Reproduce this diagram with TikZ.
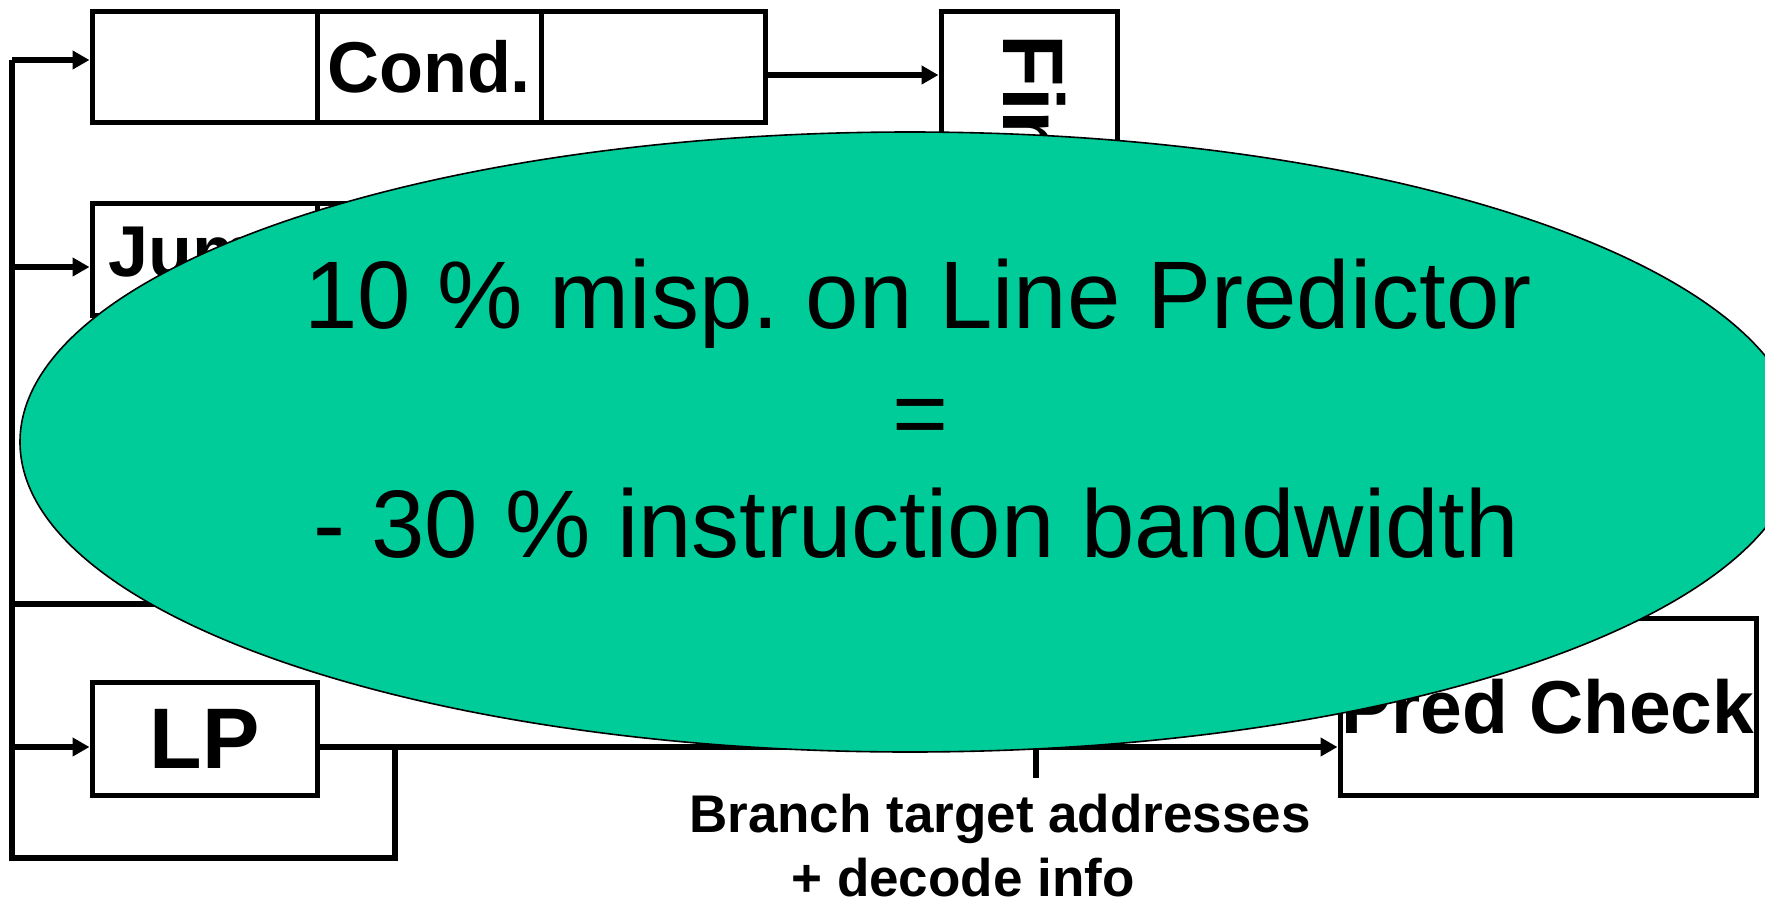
\documentclass[tikz,border=0pt]{standalone}
\usepackage{fontspec}
\setmainfont{Liberation Sans}
\usetikzlibrary{arrows.meta,shapes.geometric}
\definecolor{ovalgreen}{RGB}{0,204,153}
\frenchspacing
\newcommand\fcell{\fontsize{72}{80}\selectfont\bfseries}
\newcommand\fbig{\fontsize{86}{90}\selectfont\bfseries}
\newcommand\fpred{\fontsize{75}{80}\selectfont\bfseries}
\newcommand\flabel{\fontsize{53}{60}\selectfont\bfseries}
\newcommand\foval{\fontsize{96}{110}\selectfont}

\begin{document}
\begin{tikzpicture}[x=1pt,y=-1pt,
  wire/.style={line width=5.5pt, line join=miter},
  arr/.style={wire, -{Triangle[length=17pt,width=18pt]}},
  cell/.style={draw, line width=5pt, inner sep=0pt, fill=white},
  oval/.style={draw, line width=1.6pt, fill=ovalgreen, ellipse, inner sep=0pt},
]
\useasboundingbox (0,0) rectangle (1765,908);

% conditional predictor row
\node[cell, minimum width=225pt, minimum height=111pt] (c1) at (204.5,66.5) {};
\node[cell, minimum width=224pt, minimum height=111pt, font=\fcell] (c2) at (429,66.5) {Cond.};
\node[cell, minimum width=224pt, minimum height=111pt] (c3) at (653,66.5) {};

% jump predictor row
\node[cell, minimum width=225pt, minimum height=112pt, font=\fcell] (j1) at (204.5,259) {Jump};
\node[cell, minimum width=224pt, minimum height=112pt] (j2) at (429,259) {};
\node[cell, minimum width=224pt, minimum height=112pt] (j3) at (653,259) {};

% line predictor
\node[cell, minimum width=225pt, minimum height=113pt, font=\fbig] (lp) at (204.5,738.5) {LP};

% vertical box fed by the conditional predictor
\node[cell, minimum width=176pt, minimum height=390pt] (fin) at (1029,206) {};
\node[rotate=-90, anchor=base west, font=\fbig] (fintext) at (1003,31) {Fin};

% prediction check
\node[cell, minimum width=416pt, minimum height=177pt, font=\fpred] (pred) at (1548,706.5) {Pred Check};

% bus and feedback loop
\coordinate (b1) at (12,60);
\coordinate (b2) at (12,267);
\coordinate (b3) at (12,604);
\coordinate (b4) at (12,747);
\coordinate (bbot) at (12,858);
\coordinate (fb) at (395,747);
\coordinate (fbb) at (395,858);
\coordinate (ret) at (420,604);
\coordinate (tap) at (1036,747);
\coordinate (tapend) at (1036,778);

\draw[wire] (fb) -- (fbb) -- (bbot) -- (b1);
\draw[arr] (b1) -- (b1 -| c1.west);
\draw[arr] (b2) -- (b2 -| j1.west);
\draw[wire] (b3) -- (ret);
\draw[arr] (b4) -- (b4 -| lp.west);
\draw[arr] (c3.east |- 0,75) -- (fin.west |- 0,75);
\draw[arr] (lp.east |- b4) -- (pred.west |- b4);
\draw[wire] (tap) -- (tapend);

% label under the tap
\node[anchor=base, font=\flabel] (lab1) at (1000,832) {Branch target addresses};
\node[anchor=base, font=\flabel] (lab2) at (963,896) {+ decode info};

% overlay oval
\node[oval, minimum width=1780pt, minimum height=620pt] (ov) at (910,442) {};
\node[anchor=base, font=\foval] (o1) at (918,328) {10 \% misp. on Line Predictor};
\node[anchor=base, font=\foval] (o2) at (921,446) {=};
\node[anchor=base, font=\foval] (o3) at (916,557) {- 30 \% instruction bandwidth};
\end{tikzpicture}
\end{document}
